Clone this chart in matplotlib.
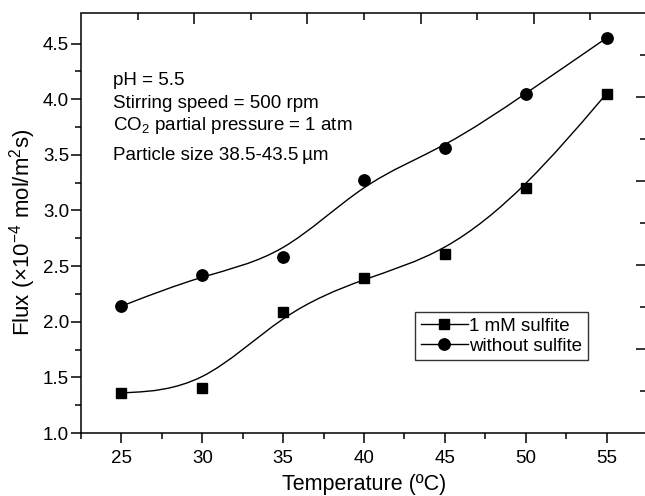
import matplotlib
matplotlib.use('Agg')
import matplotlib.pyplot as plt
from matplotlib.path import Path
from matplotlib.patches import PathPatch
from matplotlib.lines import Line2D

plt.rcParams['font.family'] = ['Liberation Sans', 'DejaVu Sans']
plt.rcParams['mathtext.default'] = 'regular'

temps = [25, 30, 35, 40, 45, 50, 55]
flux_sulfite = [1.36, 1.40, 2.09, 2.39, 2.61, 3.20, 4.05]
flux_nosulfite = [2.14, 2.42, 2.58, 3.27, 3.56, 4.05, 4.55]
labels = ['1 mM sulfite', 'without sulfite']
notes = ['pH = 5.5', 'Stirring speed = 500 rpm',
         'CO$_2$ partial pressure = 1 atm', 'Particle size 38.5-43.5\u2009\u00b5m']

FS = 13.5


# B-spline through the data as control points (like Origin's B-spline connect)
def bspline_path(xs, ys):
    pts = [(xs[0], ys[0])] * 2 + list(zip(xs, ys)) + [(xs[-1], ys[-1])] * 2
    verts, codes = [], []
    for i in range(len(pts) - 3):
        p0, p1, p2, p3 = pts[i:i + 4]
        b0 = ((p0[0] + 4 * p1[0] + p2[0]) / 6, (p0[1] + 4 * p1[1] + p2[1]) / 6)
        b1 = ((2 * p1[0] + p2[0]) / 3, (2 * p1[1] + p2[1]) / 3)
        b2 = ((p1[0] + 2 * p2[0]) / 3, (p1[1] + 2 * p2[1]) / 3)
        b3 = ((p1[0] + 4 * p2[0] + p3[0]) / 6, (p1[1] + 4 * p2[1] + p3[1]) / 6)
        if i == 0:
            verts.append(b0)
            codes.append(Path.MOVETO)
        verts += [b1, b2, b3]
        codes += [Path.CURVE4] * 3
    return Path(verts, codes)


fig = plt.figure(figsize=(6.45, 4.96), dpi=100)
rect = [81 / 645, 63 / 496, 566 / 645, 419.5 / 496]
ax = fig.add_axes(rect)

for ys, mk, ms in [(flux_sulfite, 's', 6.8), (flux_nosulfite, 'o', 8.2)]:
    ax.add_patch(PathPatch(bspline_path(temps, ys), facecolor='none',
                           edgecolor='black', lw=1.0))
    ax.plot(temps, ys, linestyle='none', marker=mk, ms=ms, color='black')

ax.set_xlim(22.5, 57.5)
ax.set_ylim(1.0, 4.77)
ax.set_xticks(temps)
ax.set_xticks([22.5 + 5 * k for k in range(7)], minor=True)
ax.set_yticks([1.0, 1.5, 2.0, 2.5, 3.0, 3.5, 4.0, 4.5])
ax.set_yticks([1.25 + 0.5 * k for k in range(7)], minor=True)
ax.set_yticklabels(['1.0', '1.5', '2.0', '2.5', '3.0', '3.5', '4.0', '4.5'])
ax.tick_params(which='both', direction='out', width=1.1, labelsize=FS,
               top=False, right=False)
ax.tick_params(which='major', length=7)
ax.tick_params(which='minor', length=4.5)
ax.tick_params(axis='y', pad=1.5)
ax.tick_params(axis='x', pad=5)
for s in ax.spines.values():
    s.set_linewidth(1.1)
ax.spines['right'].set_visible(False)

# top / right tick rows (no labels, inward)
ax2 = fig.add_axes(rect, frameon=False)
ax2.set_xlim(0, 10)
ax2.set_ylim(0, 10)
ax2.set_xticks([2, 4, 6, 8])
ax2.set_xticks([1, 3, 5, 7, 9], minor=True)
ax2.set_yticks([2, 4, 6, 8])
ax2.set_yticks([1, 3, 5, 7, 9], minor=True)
ax2.tick_params(which='both', direction='in', width=1.1, top=True, right=True,
                bottom=False, left=False, labelbottom=False, labelleft=False)
ax2.tick_params(which='major', length=8)
ax2.tick_params(which='minor', length=5)

ax.set_xlabel('Temperature (\u00baC)', fontsize=15.5, labelpad=5)
ax.set_ylabel('Flux (\u00d710$^{-4}$ mol/m$^2$s)', fontsize=16)
ax.yaxis.set_label_coords((38 - 81) / 566, (433 - 232.5) / 419.5)

note_y = [85, 107.5, 129.5, 160]
for txt, yp in zip(notes, note_y):
    fig.text(113 / 645, 1 - yp / 496, txt, fontsize=FS, ha='left', va='baseline')

handles = [Line2D([], [], color='black', lw=1.0, marker='s', ms=6.8),
           Line2D([], [], color='black', lw=1.0, marker='o', ms=8.2)]
leg = ax.legend(handles, labels, loc='upper left',
                bbox_to_anchor=((415 - 81) / 566, (433 - 312) / 419.5),
                borderaxespad=0, fontsize=13.5, frameon=True, fancybox=False,
                edgecolor='black', handlelength=2.5, handletextpad=0.1,
                labelspacing=0.15, borderpad=0.3)
leg.get_frame().set_linewidth(1.0)

fig.savefig('out.png', dpi=100)
